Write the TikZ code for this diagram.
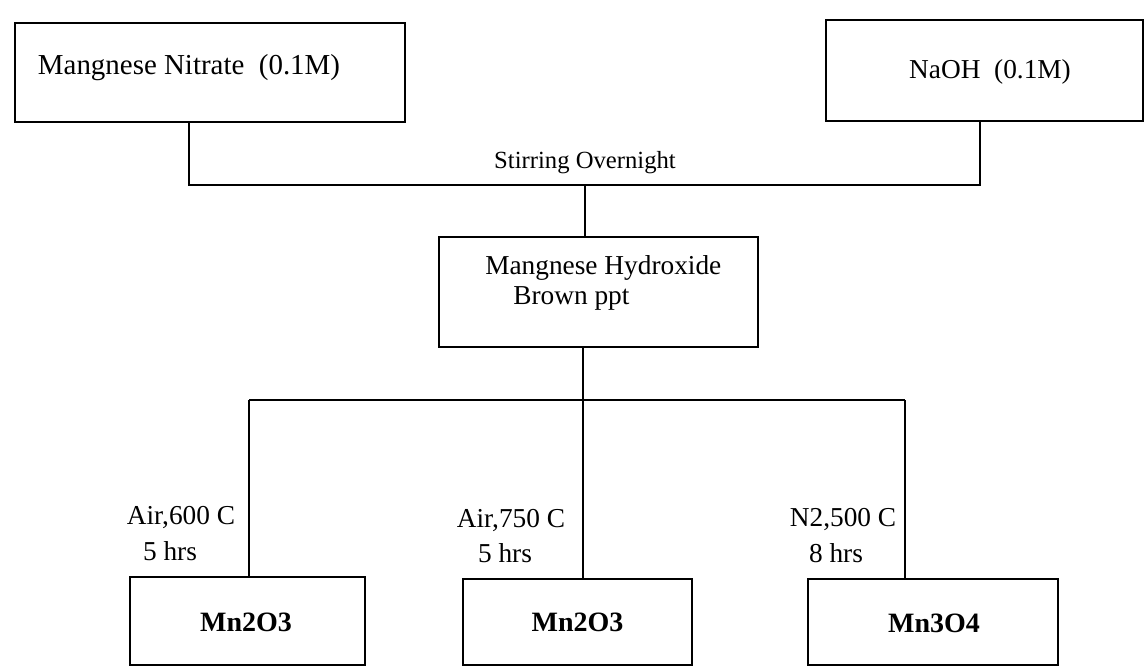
\documentclass[tikz,border=0pt]{standalone}
\usepackage{fontspec}
\setmainfont{Liberation Serif}
\begin{document}
\begin{tikzpicture}[x=0.75pt,y=-0.75pt,
  box/.style={draw,line width=1.5pt,inner sep=0pt},
  conn/.style={line width=1.5pt},
  txt/.style={inner sep=0pt,font=\fontsize{20.5}{24}\selectfont},
  big/.style={inner sep=0pt,font=\fontsize{21.7}{26}\selectfont},
  small/.style={inner sep=0pt,font=\fontsize{18.5}{22}\selectfont},
  bold/.style={inner sep=0pt,font=\fontsize{21}{25}\selectfont\bfseries}]
\useasboundingbox (0,0) rectangle (1145,667);
% top boxes
\node[box,minimum width=390*0.75pt,minimum height=99*0.75pt] (n1) at (210,72.5) {};
\node[big] (t1) at (189,68) {Mangnese Nitrate\ \ (0.1M)};
\node[box,minimum width=317*0.75pt,minimum height=101*0.75pt] (n2) at (984.5,70.5) {};
\node[txt] (t2) at (990,72) {NaOH\ \ (0.1M)};
% junction
\coordinate (j1) at (189,185);
\coordinate (j2) at (980,185);
\coordinate (jm) at (585,185);
\node[small] (stir) at (585,163) {Stirring Overnight};
% middle box
\node[box,minimum width=319*0.75pt,minimum height=110*0.75pt] (n3) at (598.5,292) {};
\node[txt,anchor=west] (t3a) at (485,268) {Mangnese Hydroxide};
\node[txt,anchor=west] (t3b) at (513,298) {Brown ppt};
\draw[conn] (n1.south -| j1) -- (j1) -- (j2) -- (n2.south -| j2);
\draw[conn] (jm) -- (n3.north -| jm);
% lower junction
\coordinate (k1) at (249,400);
\coordinate (k2) at (583,400);
\coordinate (k3) at (905,400);
% bottom boxes
\node[box,minimum width=235*0.75pt,minimum height=88*0.75pt] (b1) at (247.5,621) {};
\node[bold] (tb1) at (246,622) {Mn2O3};
\node[box,minimum width=229*0.75pt,minimum height=86*0.75pt] (b2) at (577.5,622) {};
\node[bold] (tb2) at (577.5,622) {Mn2O3};
\node[box,minimum width=250*0.75pt,minimum height=86*0.75pt] (b3) at (933,622) {};
\node[bold] (tb3) at (934,623) {Mn3O4};
\draw[conn] (n3.south -| k2) -- (k2);
\draw[conn] (k1) -- (k3);
\draw[conn] (k1) -- (b1.north -| k1);
\draw[conn] (k2) -- (b2.north -| k2);
\draw[conn] (k3) -- (b3.north -| k3);
% labels
\node[txt] (l1a) at (181,518) {Air,600 C};
\node[txt] (l1b) at (170,551) {5 hrs};
\node[txt] (l2a) at (511,521) {Air,750 C};
\node[txt] (l2b) at (505,553) {5 hrs};
\node[txt] (l3a) at (843,520) {N2,500 C};
\node[txt] (l3b) at (836,553) {8 hrs};
\end{tikzpicture}
\end{document}
